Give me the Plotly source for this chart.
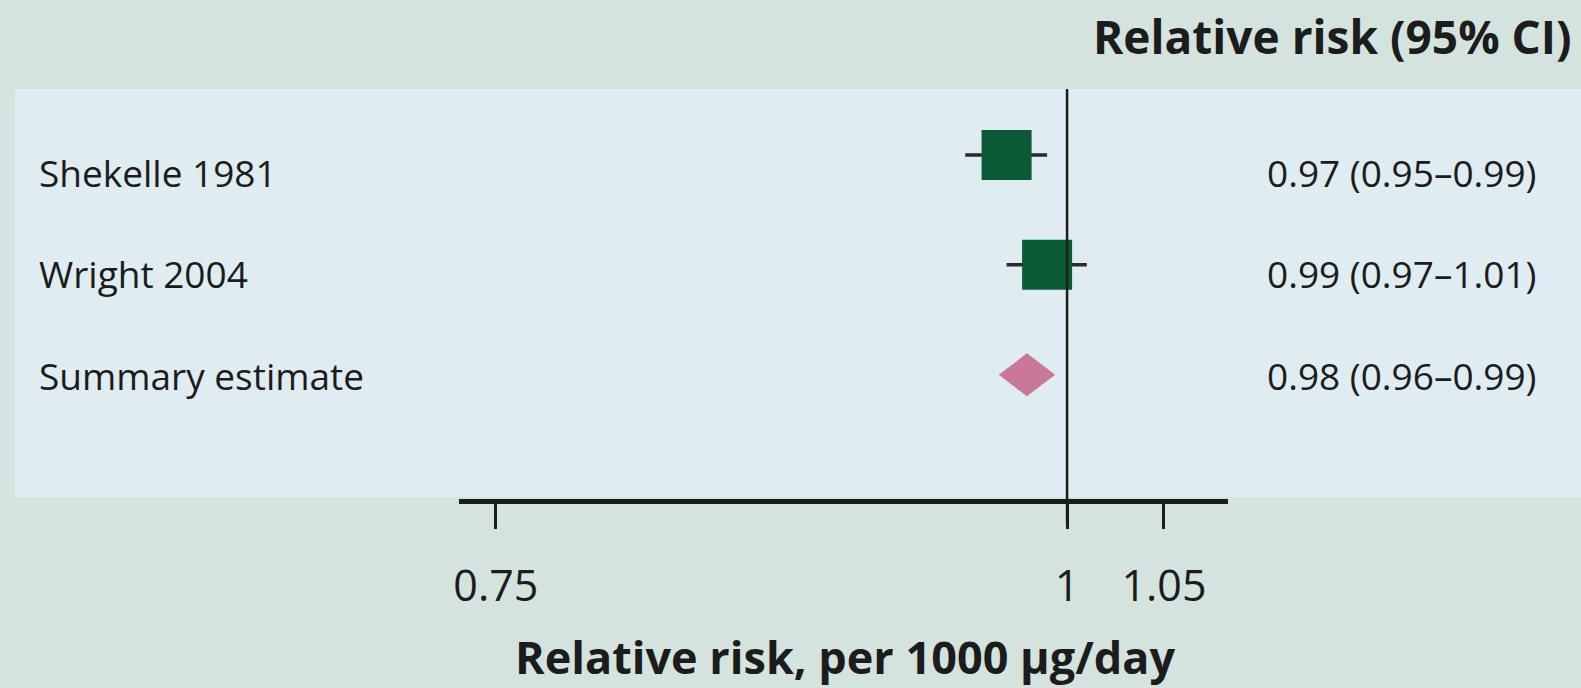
import plotly.graph_objects as go

# ---- data ----
studies = ["Shekelle 1981", "Wright 2004", "Summary estimate"]
rr = [0.97, 0.99, 0.98]
ci_low = [0.95, 0.97, 0.96]
ci_high = [0.99, 1.01, 0.99]
is_summary = [False, False, True]
tick_vals = [0.75, 1, 1.05]
tick_text = ["0.75", "1", "1.05"]
ci_header = "Relative risk (95% CI)"
x_title = "Relative risk, per 1000 µg/day"

# ---- layout constants (pixels) ----
W, H = 1581, 688
L, R, T, B = 459, 1581 - 1228, 89, 688 - 499
PW, PH = W - L - R, H - T - B

def px_x(p):
    return (p - L) / PW

def px_y(p):
    return (H - B - p) / PH

rows = list(range(1, len(studies) + 1))
label_shift = [-18, -9, -1]

BG = "#d4e3dd"
PANEL = "#dfecf1"
INK = "#1c1c1c"
GREEN = "#0b5a36"
PINK = "#c97898"
FONT = "Open Sans"

fig = go.Figure()

# study squares with CI whiskers
sx = [v for v, s in zip(rr, is_summary) if not s]
sy = [r for r, s in zip(rows, is_summary) if not s]
s_plus = [h - v for v, h, s in zip(rr, ci_high, is_summary) if not s]
s_minus = [v - l for v, l, s in zip(rr, ci_low, is_summary) if not s]
fig.add_trace(go.Scatter(
    x=sx, y=sy, mode="markers",
    marker=dict(symbol="square", size=50, color=GREEN, line=dict(width=0)),
    error_x=dict(type="data", symmetric=False, array=s_plus, arrayminus=s_minus,
                 color="#2a2a2a", thickness=3.5, width=0),
    showlegend=False, hoverinfo="skip",
))

# summary diamond (symmetric on the log scale around the estimate)
diamond_k = 1.0143
for v, r, s in zip(rr, rows, is_summary):
    if s:
        half = 0.195
        fig.add_trace(go.Scatter(
            x=[v / diamond_k, v, v * diamond_k, v, v / diamond_k],
            y=[r, r - half, r, r + half, r],
            mode="lines", fill="toself", fillcolor=PINK,
            line=dict(color=PINK, width=0), showlegend=False, hoverinfo="skip",
        ))

shapes = [
    dict(type="rect", xref="paper", yref="paper", x0=px_x(15), x1=px_x(W + 5),
         y0=px_y(497), y1=1, fillcolor=PANEL, line=dict(width=0), layer="below"),
    dict(type="line", xref="x", yref="paper", x0=1, x1=1, y0=px_y(524), y1=1,
         line=dict(color=INK, width=2.5), layer="above"),
]

annotations = []
for name, v, l, h, r, sh in zip(studies, rr, ci_low, ci_high, rows, label_shift):
    annotations.append(dict(
        text=name, xref="paper", yref="y", x=px_x(37), y=r, yshift=sh,
        xanchor="left", yanchor="middle", showarrow=False,
        font=dict(family=FONT, size=37, color=INK)))
    annotations.append(dict(
        text=f"{v:.2f} ({l:.2f}–{h:.2f})", xref="paper", yref="y",
        x=px_x(1265), y=r, yshift=sh, xanchor="left", yanchor="middle",
        showarrow=False, font=dict(family=FONT, size=37, color=INK)))

annotations.append(dict(
    text=f"<b>{ci_header}</b>", xref="paper", yref="paper",
    x=px_x(1574), y=px_y(36), xanchor="right", yanchor="middle", showarrow=False,
    font=dict(family=FONT, size=46, color=INK, weight=800)))

annotations.append(dict(
    text=f"<b>{x_title}</b>", xref="paper", yref="paper",
    x=px_x(845), y=px_y(656), xanchor="center", yanchor="middle", showarrow=False,
    font=dict(family=FONT, size=45, color=INK, weight=800)))

fig.update_layout(
    width=W, height=H,
    margin=dict(l=L, r=R, t=T, b=B, pad=0),
    paper_bgcolor=BG, plot_bgcolor="rgba(0,0,0,0)",
    shapes=shapes, annotations=annotations,
    showlegend=False,
)

fig.update_xaxes(
    type="log", range=[-0.1330, 0.0352],
    tickvals=tick_vals, ticktext=tick_text,
    ticks="outside", ticklen=25, tickwidth=2.5, tickcolor=INK,
    ticklabelstandoff=20,
    showline=True, linewidth=5, linecolor=INK,
    showgrid=False, zeroline=False,
    tickfont=dict(family=FONT, size=43, color=INK),
)
fig.update_yaxes(
    range=[4.13, 0.4], visible=False, showgrid=False, zeroline=False,
)

fig.write_html(
    "out.html",
    config={"displayModeBar": False},
    post_script="document.body.style.margin='0';document.body.style.padding='0';",
)
